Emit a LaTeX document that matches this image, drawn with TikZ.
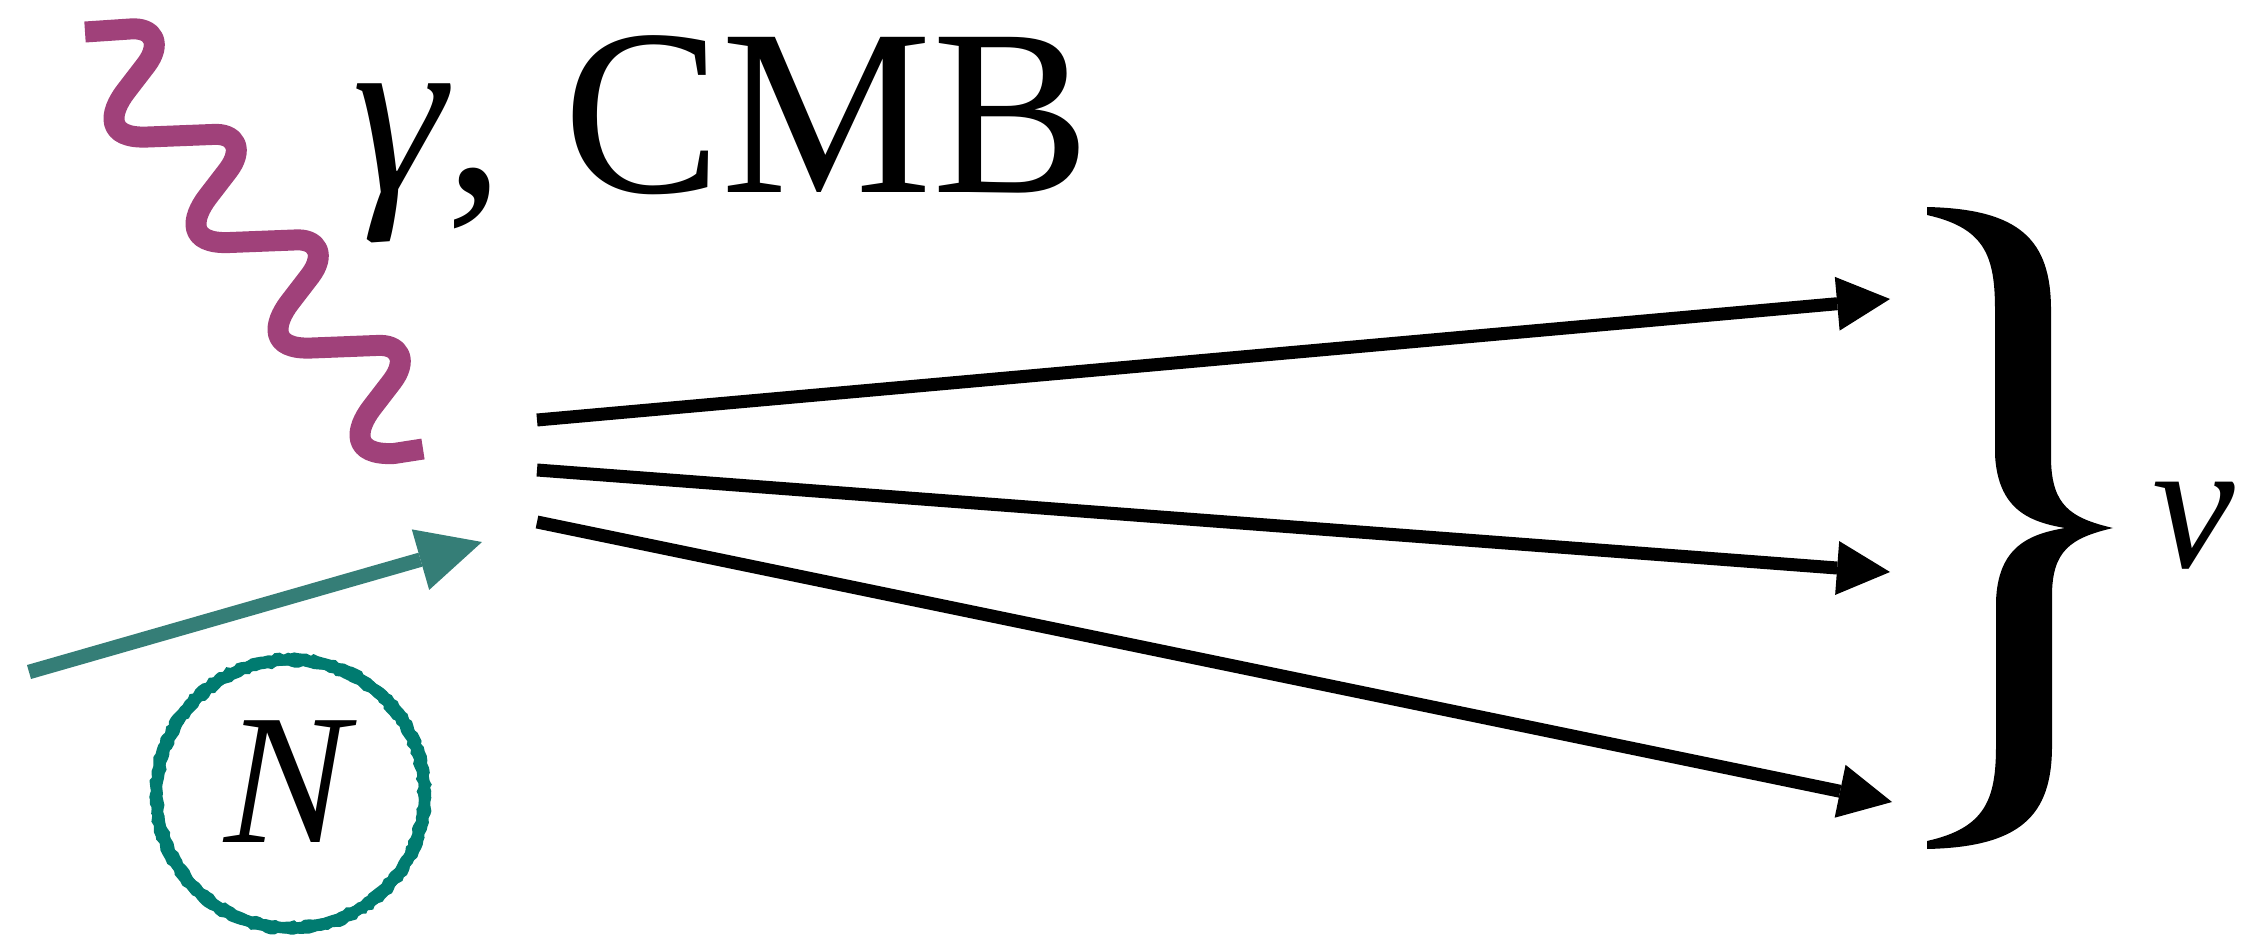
\documentclass[tikz,border=0pt]{standalone}
\usepackage{fontspec}
\setmainfont{Liberation Serif}
\usetikzlibrary{arrows.meta,decorations.pathmorphing}
\definecolor{wavecol}{HTML}{A0417A}
\definecolor{tealarrow}{HTML}{357E77}
\definecolor{tealring}{HTML}{007B70}
\begin{document}
\begin{tikzpicture}[x=1pt,y=-1pt,
  wave/.style={draw=wavecol,line width=21pt,line join=round},
  blackarrow/.style={draw=black,line width=13pt,-{Triangle[length=53pt,width=54pt,line width=0pt]}},
  incoming/.style={draw=tealarrow,line width=14.5pt,-{Triangle[length=64pt,width=63pt,line width=0pt]}},
  ringline/.style={draw=tealring,line width=11pt},
  roughline/.style={draw=tealring,line width=3pt,decorate,decoration={random steps,segment length=4pt,amplitude=1.3pt}},
  lbl/.style={inner sep=0pt,outer sep=0pt}]
\useasboundingbox (0,0) rectangle (2244,941);
\pgfmathsetseed{7}
% photon wave
\coordinate (w0) at (85,32);
\coordinate (w1) at (423,449);
\draw[wave] (w0) \foreach \k in {0,1,2,3} {
  -- ({130+82*\k},{29+105.5*\k})
  .. controls ({154+82*\k},{27+105.5*\k}) and ({162+82*\k},{44+105.5*\k}) .. ({146+82*\k},{65+105.5*\k})
  -- ({126+82*\k},{91+105.5*\k})
  .. controls ({109+82*\k},{113+105.5*\k}) and ({105+82*\k},{139+105.5*\k}) .. ({148+82*\k},{137+105.5*\k})
} -- (w1);
% labels
\node[lbl,anchor=base west] (title) at (352,193) {\fontsize{237}{240}\selectfont{\itshape γ}, CMB};
% incoming particle
\coordinate (in0) at (29,672);
\coordinate (in1) at (482,542);
\draw[incoming] (in0) -- (in1);
% nucleus
\coordinate (nc) at (290.5,794);
\draw[ringline] (nc) circle[radius=134];
\draw[roughline] (nc) circle[radius=139];
\draw[roughline] (nc) circle[radius=129];
\node[lbl,anchor=base] (N) at (287,842) {\fontsize{186}{190}\selectfont\itshape N};
% outgoing neutrinos
\coordinate (s1) at (537,420);
\coordinate (s2) at (537,470);
\coordinate (s3) at (537,522);
\coordinate (t1) at (1890,299);
\coordinate (t2) at (1890,572);
\coordinate (t3) at (1892,802);
\draw[blackarrow] (s1) -- (t1);
\draw[blackarrow] (s2) -- (t2);
\draw[blackarrow] (s3) -- (t3);
% brace
\fill[black] (1927,207) .. controls (2020,209) and (2051,240) .. (2051,310)
  -- (2051,460) .. controls (2052,505) and (2070,518) .. (2113,528)
  .. controls (2070,538) and (2052,551) .. (2052,596)
  -- (2052,746) .. controls (2052,816) and (2020,847) .. (1927,849)
  -- (1927,841) .. controls (1985,828) and (1996,800) .. (1996,746)
  -- (1996,601) .. controls (1998,546) and (2030,534) .. (2065,528)
  .. controls (2030,522) and (1998,510) .. (1995,455)
  -- (1995,310) .. controls (1995,256) and (1985,228) .. (1927,215) -- cycle;
\node[lbl,anchor=base west] (nu) at (2152,567) {\fontsize{186}{190}\selectfont\itshape ν};
\end{tikzpicture}
\end{document}
